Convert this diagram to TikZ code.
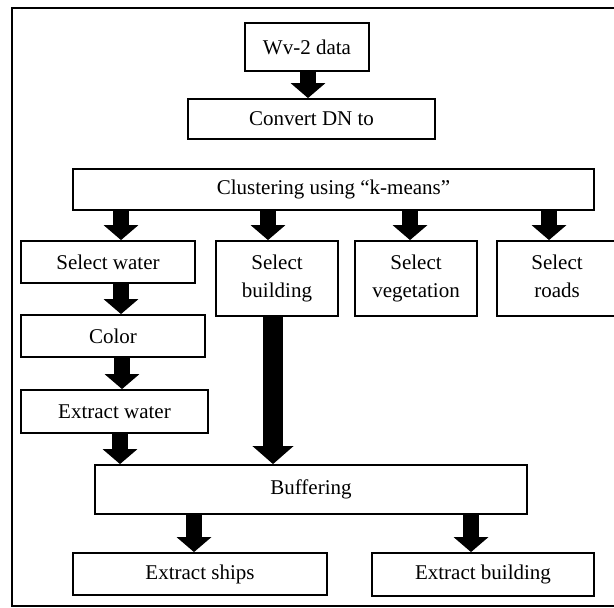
\documentclass[tikz,border=0pt]{standalone}
\usepackage{fontspec}
\setmainfont{Liberation Serif}
\usetikzlibrary{arrows.meta}

\begin{document}
\begin{tikzpicture}[x=1pt,y=-1pt,
    box/.style={draw,line width=1.8pt,inner sep=0pt,align=center,
      font=\fontsize{21}{28}\selectfont},
    blk/.style={line width=16pt,-{Triangle[width=34pt,length=15pt]}},
    bigblk/.style={line width=20pt,-{Triangle[width=40pt,length=18pt]}}]
    \useasboundingbox (0,0) rectangle (614,608);
    % Outer frame (right side runs off the page)
    \draw[line width=2.5pt] (12,8) rectangle (630,606);
    % Boxes
    \node[box,minimum width=124,minimum height=48] (wv) at (307,47) {Wv-2 data};
    \node[box,minimum width=247,minimum height=40] (conv) at (311.5,119) {Convert DN to};
    \node[box,minimum width=521,minimum height=41] (clu) at (333.5,189.5) {Clustering using “k-means”};
    \node[box,minimum width=174,minimum height=42] (sw) at (108,262) {Select water};
    \node[box,minimum width=122,minimum height=75] (sb) at (277,278.5) {Select\\building};
    \node[box,minimum width=122,minimum height=75] (sv) at (416,278.5) {Select\\vegetation};
    \node[box,minimum width=120,minimum height=75] (sr) at (557,278.5) {Select\\roads\vphantom{g}};
    \node[box,minimum width=184,minimum height=42] (col) at (113,336) {Color};
    \node[box,minimum width=187,minimum height=43] (ew) at (114.5,411.5) {Extract water};
    \node[box,minimum width=432,minimum height=49] (buf) at (311,489.5) {Buffering};
    \node[box,minimum width=254,minimum height=42] (es) at (200,574) {Extract ships};
    \node[box,minimum width=222,minimum height=43] (eb) at (483,574.5) {Extract building};
    % Block arrows
    \draw[blk] (wv.south -| 308,0) -- (conv.north -| 308,0);
    \foreach \n/\x in {sw/121,sb/268,sv/410,sr/549} {
      \draw[blk] (clu.south -| \x,0) -- (\n.north -| \x,0);
    }
    \draw[blk] (sw.south -| 121,0) -- (col.north -| 121,0);
    \draw[blk] (col.south -| 122,0) -- (ew.north -| 122,0);
    \draw[blk] (ew.south -| 120,0) -- (buf.north -| 120,0);
    \draw[bigblk] (sb.south -| 273,0) -- (buf.north -| 273,0);
    \draw[blk] (buf.south -| 194,0) -- (es.north -| 194,0);
    \draw[blk] (buf.south -| 471,0) -- (eb.north -| 471,0);
\end{tikzpicture}
\end{document}
